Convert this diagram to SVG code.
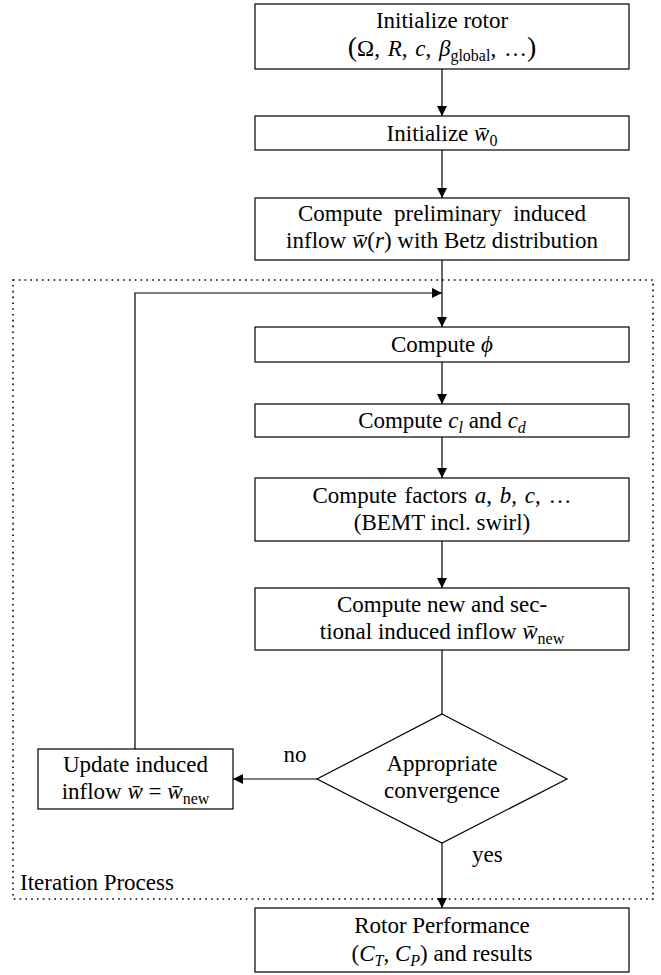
<svg xmlns="http://www.w3.org/2000/svg" width="661" height="975" viewBox="0 0 661 975" font-family="'Liberation Serif', 'Times New Roman', serif">
<style>
text{font-family:"Liberation Serif","Times New Roman",serif;font-size:23px;fill:#000}
.c{text-anchor:middle}
.i{font-style:italic}
.s{font-size:16px}
.p{font-size:28px}
.box{fill:#fff;stroke:#000;stroke-width:1.2}
.ln{fill:none;stroke:#000;stroke-width:1.2}
.dot{fill:none;stroke:#000;stroke-width:1.6;stroke-dasharray:1.6 4.2}
</style>
<defs>
<marker id="ah" viewBox="0 0 10 10" refX="10" refY="5" markerWidth="10" markerHeight="10" markerUnits="userSpaceOnUse" orient="auto">
<path d="M0,0 L10,5 L0,10 z" fill="#000"/>
</marker>
</defs>
<rect class="dot" x="13" y="280" width="640" height="619"/>
<text x="20" y="890">Iteration Process</text>
<g id="connectors">
<line class="ln" x1="442" y1="69" x2="442" y2="116" marker-end="url(#ah)"/>
<line class="ln" x1="442" y1="150" x2="442" y2="198" marker-end="url(#ah)"/>
<line class="ln" x1="442" y1="260" x2="442" y2="327" marker-end="url(#ah)"/>
<line class="ln" x1="442" y1="362" x2="442" y2="404" marker-end="url(#ah)"/>
<line class="ln" x1="442" y1="437" x2="442" y2="478" marker-end="url(#ah)"/>
<line class="ln" x1="442" y1="541" x2="442" y2="588" marker-end="url(#ah)"/>
<line class="ln" x1="442" y1="650" x2="442" y2="714"/>
<line class="ln" x1="442" y1="842" x2="442" y2="908" marker-end="url(#ah)"/>
<line class="ln" x1="317" y1="779" x2="233" y2="779" marker-end="url(#ah)"/>
<polyline class="ln" points="135,749 135,293 442,293" marker-end="url(#ah)"/>
<text class="c" x="295" y="762">no</text>
<text x="472" y="862">yes</text>
</g>
<g id="n1">
<rect class="box" x="255" y="4" width="374" height="65"/>
<text class="c" x="442" y="28">Initialize rotor</text>
<text class="c" x="442" y="56" word-spacing="2"><tspan class="p">(</tspan>Ω, <tspan class="i">R</tspan>, <tspan class="i">c</tspan>, <tspan class="i">β</tspan><tspan class="s" dy="5">global</tspan><tspan dy="-5">, …</tspan><tspan class="p">)</tspan></text>
</g>
<g id="n2">
<rect class="box" x="255" y="116" width="374" height="34"/>
<text class="c" x="442" y="141">Initialize <tspan class="i">w̄</tspan><tspan class="s" dy="5">0</tspan></text>
</g>
<g id="n3">
<rect class="box" x="255" y="198" width="374" height="62"/>
<text class="c" x="442" y="221" word-spacing="6">Compute preliminary induced</text>
<text class="c" x="442" y="248">inflow <tspan class="i">w̄</tspan>(<tspan class="i">r</tspan>) with Betz distribution</text>
</g>
<g id="n4">
<rect class="box" x="255" y="327" width="374" height="35"/>
<text class="c" x="442" y="352">Compute <tspan class="i">ϕ</tspan></text>
</g>
<g id="n5">
<rect class="box" x="255" y="404" width="374" height="33"/>
<text class="c" x="442" y="428">Compute <tspan class="i">c</tspan><tspan class="s i" dy="5">l</tspan><tspan dy="-5"> and </tspan><tspan class="i">c</tspan><tspan class="s i" dy="5">d</tspan></text>
</g>
<g id="n6">
<rect class="box" x="255" y="478" width="374" height="63"/>
<text class="c" x="442" y="503" word-spacing="2">Compute factors <tspan class="i">a</tspan>, <tspan class="i">b</tspan>, <tspan class="i">c</tspan>, …</text>
<text class="c" x="442" y="530">(BEMT incl. swirl)</text>
</g>
<g id="n7">
<rect class="box" x="255" y="588" width="374" height="62"/>
<text class="c" x="442" y="612">Compute new and sec-</text>
<text class="c" x="442" y="639">tional induced inflow <tspan class="i">w̄</tspan><tspan class="s" dy="5">new</tspan></text>
</g>
<g id="n8">
<polygon class="box" points="442,714 567,779 442,843 317,779"/>
<text class="c" x="442" y="771">Appropriate</text>
<text class="c" x="442" y="798">convergence</text>
</g>
<g id="n9">
<rect class="box" x="38" y="749" width="195" height="60"/>
<text class="c" x="135.5" y="772">Update induced</text>
<text class="c" x="135.5" y="799">inflow <tspan class="i">w̄</tspan> = <tspan class="i">w̄</tspan><tspan class="s" dy="5">new</tspan></text>
</g>
<g id="n10">
<rect class="box" x="255" y="908" width="374" height="64"/>
<text class="c" x="442" y="933">Rotor Performance</text>
<text class="c" x="442" y="961">(<tspan class="i">C</tspan><tspan class="s i" dy="5">T</tspan><tspan dy="-5">, </tspan><tspan class="i">C</tspan><tspan class="s i" dy="5">P</tspan><tspan dy="-5">) and results</tspan></text>
</g>
</svg>
